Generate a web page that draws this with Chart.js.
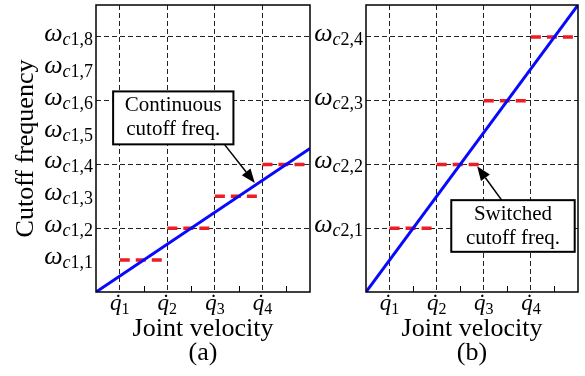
<!DOCTYPE html>
<html>
<head>
<meta charset="utf-8">
<script src="https://cdn.jsdelivr.net/npm/chart.js@4.4.1/dist/chart.umd.min.js"></script>
<style>
    body { margin: 0; background: #fff; }
    #wrap { position: relative; width: 585px; height: 376px; overflow: hidden; }
    canvas { position: absolute; top: 0; }
</style>
</head>
<body>
<div id="wrap">
    <canvas id="chartA" width="312" height="376" style="left:0"></canvas>
    <canvas id="chartB" width="273" height="376" style="left:312px"></canvas>
</div>
<script>
const serif = '"Liberation Serif", "Times New Roman", serif';

// joint velocity axis (shared)
const velocityTicks = [1, 2, 3, 4];
const velocitySubs = ['1', '2', '3', '4'];
const minorTicks = [1.5, 2.5, 3.5, 4.5];
const velocityMin = 0.5;
const velocityMax = 5;

// continuous cutoff frequency (blue line)
const continuousX = [0.5, 5];
const continuousY = [0, 4.5];

// switched cutoff frequency (red dashed steps)
const switchFrom = [1, 2, 3, 4];
const switchTo = [2, 3, 4, 5];
const switchLevel = [1, 2, 3, 4];

// panel (a)
const levelsA = [1, 2, 3, 4, 5, 6, 7, 8];
const subsA = ['1,1', '1,2', '1,3', '1,4', '1,5', '1,6', '1,7', '1,8'];
const gridA = [2, 4, 6, 8];
const maxA = 9;

// panel (b)
const levelsB = [1, 2, 3, 4];
const subsB = ['2,1', '2,2', '2,3', '2,4'];
const gridB = [1, 2, 3, 4];
const maxB = 4.5;

// callouts, in data units: box = [x1, y1, x2, y2]
const noteA = { text: ['Continuous', 'cutoff freq.'], box: [0.86, 6.29, 3.39, 4.63], from: [3.2, 4.63], to: [3.84, 3.42] };
const noteB = { text: ['Switched', 'cutoff freq.'], box: [2.31, 1.44, 4.93, 0.63], from: [3.38, 1.44], to: [2.86, 1.97] };

function drawOmega(ctx, right, y, sub) {
    ctx.font = 'italic 26px ' + serif;
    const wO = ctx.measureText('\u03C9').width;
    ctx.font = 'italic 18px ' + serif;
    const wC = ctx.measureText('c').width;
    ctx.font = '18px ' + serif;
    const wN = ctx.measureText(sub).width;
    let x = right - wO - wC - wN;
    ctx.fillStyle = '#000';
    ctx.textAlign = 'left';
    ctx.textBaseline = 'alphabetic';
    ctx.font = 'italic 26px ' + serif;
    ctx.fillText('\u03C9', x, y + 4);
    x += wO;
    ctx.font = 'italic 18px ' + serif;
    ctx.fillText('c', x, y + 8);
    x += wC;
    ctx.font = '18px ' + serif;
    ctx.fillText(sub, x, y + 8);
}

function drawQdot(ctx, cx, base, sub) {
    ctx.font = 'italic 23px ' + serif;
    const wq = ctx.measureText('q').width;
    ctx.font = '16px ' + serif;
    const ws = ctx.measureText(sub).width;
    const x0 = cx - (wq + ws) / 2;
    ctx.fillStyle = '#000';
    ctx.textBaseline = 'alphabetic';
    ctx.font = 'italic 23px ' + serif;
    ctx.textAlign = 'left';
    ctx.fillText('q', x0, base);
    ctx.textAlign = 'center';
    ctx.fillText('\u02D9', x0 + wq * 0.6, base);
    ctx.textAlign = 'left';
    ctx.font = '16px ' + serif;
    ctx.fillText(sub, x0 + wq, base + 4);
}

function drawNote(ctx, xs, ys, note) {
    const x1 = xs.getPixelForValue(note.box[0]);
    const y1 = ys.getPixelForValue(note.box[1]);
    const x2 = xs.getPixelForValue(note.box[2]);
    const y2 = ys.getPixelForValue(note.box[3]);
    const fx = xs.getPixelForValue(note.from[0]);
    const fy = ys.getPixelForValue(note.from[1]);
    const tx = xs.getPixelForValue(note.to[0]);
    const ty = ys.getPixelForValue(note.to[1]);

    // arrow
    const ang = Math.atan2(ty - fy, tx - fx);
    const head = 14;
    const bx = tx - head * Math.cos(ang);
    const by = ty - head * Math.sin(ang);
    ctx.strokeStyle = '#000';
    ctx.fillStyle = '#000';
    ctx.lineWidth = 1.5;
    ctx.beginPath();
    ctx.moveTo(fx, fy);
    ctx.lineTo(bx, by);
    ctx.stroke();
    ctx.beginPath();
    ctx.moveTo(tx, ty);
    ctx.lineTo(bx + 5.5 * Math.sin(ang), by - 5.5 * Math.cos(ang));
    ctx.lineTo(bx - 5.5 * Math.sin(ang), by + 5.5 * Math.cos(ang));
    ctx.closePath();
    ctx.fill();

    // box
    ctx.fillStyle = '#fff';
    ctx.fillRect(x1, y1, x2 - x1, y2 - y1);
    ctx.lineWidth = 2;
    ctx.strokeRect(x1, y1, x2 - x1, y2 - y1);

    ctx.fillStyle = '#000';
    ctx.font = '21px ' + serif;
    ctx.textAlign = 'center';
    ctx.textBaseline = 'middle';
    const cx = (x1 + x2) / 2;
    const cy = (y1 + y2) / 2;
    ctx.fillText(note.text[0], cx, cy - 12);
    ctx.fillText(note.text[1], cx, cy + 12);
}

const panelDecor = {
    id: 'panelDecor',
    afterDraw(chart, args, opts) {
        const { ctx, chartArea: a, scales: { x, y } } = chart;
        ctx.save();
        ctx.strokeStyle = '#000';
        ctx.lineWidth = 1.5;
        ctx.strokeRect(a.left, a.top, a.right - a.left, a.bottom - a.top);

        ctx.lineWidth = 1;
        minorTicks.forEach(v => {
            const px = Math.round(x.getPixelForValue(v)) + 0.5;
            ctx.beginPath();
            ctx.moveTo(px, a.bottom);
            ctx.lineTo(px, a.bottom - 6);
            ctx.stroke();
        });

        opts.levels.forEach((v, i) => drawOmega(ctx, a.left - 3, y.getPixelForValue(v), opts.subs[i]));
        velocityTicks.forEach((v, i) => drawQdot(ctx, x.getPixelForValue(v), a.bottom + 18, velocitySubs[i]));

        drawNote(ctx, x, y, opts.note);
        ctx.restore();
    }
};

function buildDatasets() {
    const sets = [{
        data: continuousX.map((v, i) => ({ x: v, y: continuousY[i] })),
        borderColor: '#0808ff',
        borderWidth: 3,
        pointRadius: 0,
        order: 0
    }];
    switchLevel.forEach((lv, i) => {
        sets.push({
            data: [{ x: switchFrom[i], y: lv }, { x: switchTo[i], y: lv }],
            borderColor: '#ee1c24',
            borderWidth: 3.5,
            borderDash: [10, 6],
            pointRadius: 0,
            order: 1
        });
    });
    return sets;
}

function makePanel(canvasId, cfg) {
    return new Chart(document.getElementById(canvasId).getContext('2d'), {
        type: 'line',
        data: { datasets: buildDatasets() },
        options: {
            responsive: false,
            animation: false,
            events: [],
            layout: { padding: { top: 5, right: cfg.padRight, left: 0, bottom: 0 } },
            plugins: {
                legend: { display: false },
                tooltip: { enabled: false },
                panelDecor: { levels: cfg.levels, subs: cfg.subs, note: cfg.note }
            },
            scales: {
                x: {
                    type: 'linear',
                    min: velocityMin,
                    max: velocityMax,
                    afterBuildTicks: s => { s.ticks = velocityTicks.map(v => ({ value: v })); },
                    afterFit: s => { s.height = 84; },
                    ticks: { display: false },
                    grid: { color: '#222', lineWidth: 1, drawTicks: false },
                    border: { display: false, dash: [5, 3] },
                    title: {
                        display: true,
                        text: ['Joint velocity', cfg.tag],
                        color: '#000',
                        font: { family: serif, size: 26, lineHeight: 0.92 },
                        padding: { top: 0, bottom: 11 }
                    }
                },
                y: {
                    type: 'linear',
                    min: 0,
                    max: cfg.max,
                    afterBuildTicks: s => { s.ticks = cfg.grid.map(v => ({ value: v })); },
                    afterFit: s => { s.width = cfg.axisWidth; },
                    ticks: { display: false },
                    grid: { color: '#222', lineWidth: 1, drawTicks: false },
                    border: { display: false, dash: [5, 3] },
                    title: {
                        display: cfg.yTitle !== '',
                        text: cfg.yTitle,
                        color: '#000',
                        font: { family: serif, size: 26, lineHeight: 1.2 },
                        padding: { top: 11, bottom: 0 }
                    }
                }
            }
        },
        plugins: [panelDecor]
    });
}

makePanel('chartA', { levels: levelsA, subs: subsA, grid: gridA, max: maxA, note: noteA, tag: '(a)', yTitle: 'Cutoff frequency', axisWidth: 96, padRight: 2 });
makePanel('chartB', { levels: levelsB, subs: subsB, grid: gridB, max: maxB, note: noteB, tag: '(b)', yTitle: '', axisWidth: 54, padRight: 7 });
</script>
</body>
</html>
